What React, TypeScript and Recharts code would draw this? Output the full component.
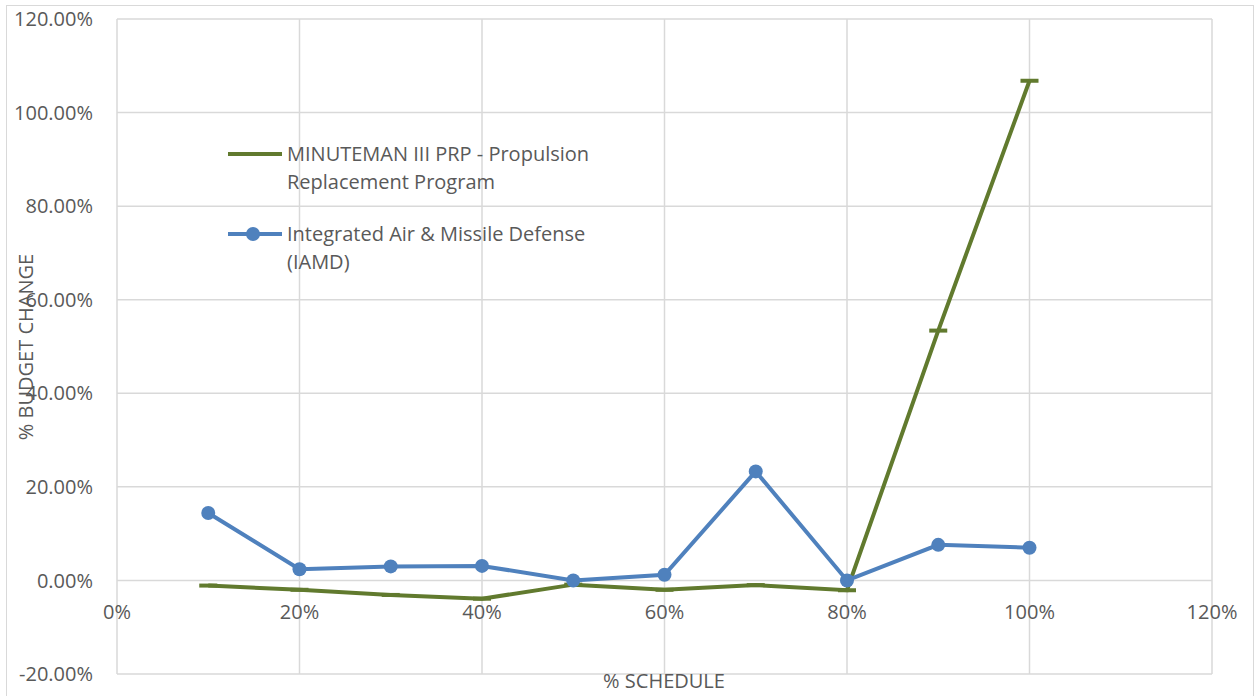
import { LineChart, Line, XAxis, YAxis, CartesianGrid, Legend } from 'recharts';

const schedule = [10, 20, 30, 40, 50, 60, 70, 80, 90, 100];
const minuteman = [-1.1, -2.0, -3.1, -3.9, -0.9, -2.0, -1.0, -2.1, 53.4, 106.8];
const iamd = [14.4, 2.4, 3.0, 3.1, 0.0, 1.2, 23.3, 0.0, 7.6, 7.0];
const xTicks = [0, 20, 40, 60, 80, 100, 120];
const yTicks = [-20, 0, 20, 40, 60, 80, 100, 120];

const GREEN = '#617a2e';
const BLUE = '#4f81bd';
const TEXT = '#595959';
const GRID = '#d9d9d9';
const FONT = '"Open Sans", sans-serif';

const data = schedule.map((s, i) => ({ s, minuteman: minuteman[i], iamd: iamd[i] }));

const DashDot = (props: any) => {
  const { cx, cy } = props;
  if (cx == null || cy == null) return null;
  return <rect x={cx - 9} y={cy - 2} width={18} height={4} fill={GREEN} />;
};

const XTick = (props: any) => {
  const { x, y, payload } = props;
  return (
    <text x={x} y={y - 55} textAnchor="middle" fill={TEXT} fontSize={20} fontFamily={FONT}>
      {payload.value}%
    </text>
  );
};

const legendItems = [
  { color: GREEN, dot: false, lines: ['MINUTEMAN III PRP - Propulsion', 'Replacement Program'] },
  { color: BLUE, dot: true, lines: ['Integrated Air & Missile Defense', '(IAMD)'] },
];

const LegendBox = () => (
  <div style={{ fontFamily: FONT, fontSize: 20, color: TEXT, lineHeight: '28px' }}>
    {legendItems.map((it, i) => (
      <div key={i} style={{ display: 'flex', alignItems: 'flex-start', marginBottom: i === 0 ? 24 : 0 }}>
        <svg width={59} height={28} style={{ flexShrink: 0 }}>
          <line x1={0} y1={14} x2={54} y2={14} stroke={it.color} strokeWidth={4} />
          {it.dot && <circle cx={25} cy={14} r={7} fill={it.color} />}
        </svg>
        <div>
          {it.lines.map((l) => (
            <div key={l} style={{ whiteSpace: 'nowrap' }}>{l}</div>
          ))}
        </div>
      </div>
    ))}
  </div>
);

export default function App() {
  return (
    <div style={{ position: 'absolute', left: 0, top: 0, width: 1255, height: 696, background: '#fff', overflow: 'hidden' }}>
      <div style={{ position: 'absolute', left: 6, top: 5, width: 1246, height: 700, border: `1.5px solid ${GRID}` }} />
      <LineChart
        width={1255}
        height={696}
        data={data}
        margin={{ top: 19, right: 43, left: 0, bottom: 0 }}
        style={{ position: 'absolute', left: 0, top: 0 }}
      >
        <CartesianGrid stroke={GRID} strokeWidth={1.5} />
        <XAxis
          dataKey="s"
          type="number"
          domain={[0, 120]}
          ticks={xTicks}
          height={22}
          axisLine={false}
          tickLine={false}
          tickSize={0}
          tickMargin={0}
          tick={<XTick />}
        />
        <YAxis
          type="number"
          domain={[-20, 120]}
          ticks={yTicks}
          width={117}
          axisLine={false}
          tickLine={false}
          tickSize={0}
          tickMargin={24}
          tickFormatter={(v: number) => `${v.toFixed(2)}%`}
          tick={{ fill: TEXT, fontSize: 20, fontFamily: FONT }}
        />
        <Legend
          layout="vertical"
          align="center"
          verticalAlign="middle"
          content={<LegendBox />}
          wrapperStyle={{ position: 'absolute', left: 228, top: 140, width: 420 }}
        />
        <Line
          dataKey="minuteman"
          name="MINUTEMAN III PRP - Propulsion Replacement Program"
          stroke={GREEN}
          strokeWidth={4}
          dot={<DashDot />}
          activeDot={false}
          isAnimationActive={false}
        />
        <Line
          dataKey="iamd"
          name="Integrated Air & Missile Defense (IAMD)"
          stroke={BLUE}
          strokeWidth={4}
          dot={{ r: 7, fill: BLUE, stroke: 'none' }}
          activeDot={false}
          isAnimationActive={false}
        />
      </LineChart>
      <div
        style={{
          position: 'absolute', left: 26, top: 347, transform: 'translate(-50%, -50%) rotate(-90deg)',
          fontFamily: FONT, fontSize: 20, color: TEXT, whiteSpace: 'nowrap', lineHeight: 1,
        }}
      >
        % BUDGET CHANGE
      </div>
      <div
        style={{
          position: 'absolute', left: 664, top: 681, transform: 'translate(-50%, -50%)',
          fontFamily: FONT, fontSize: 20, color: TEXT, whiteSpace: 'nowrap', lineHeight: 1,
        }}
      >
        % SCHEDULE
      </div>
    </div>
  );
}
